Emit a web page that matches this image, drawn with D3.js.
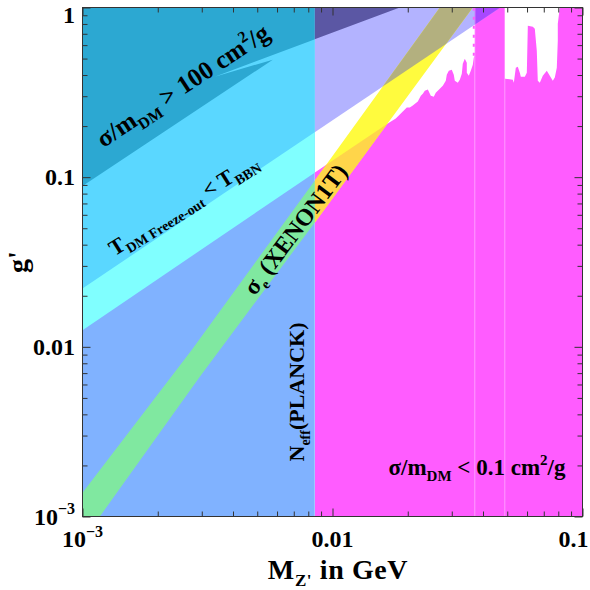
<!DOCTYPE html>
<html lang='en'>
  <head>
    <meta charset='utf-8'>
    <style>
      body { margin: 0; background: #fff; }
      svg { display: block; }
      text { font-family: 'Liberation Serif', 'Times New Roman', serif; font-weight: bold; white-space: pre; }
    </style>
  </head>
  <body>
    <div id='chart'></div>

    <script src='https://cdn.jsdelivr.net/npm/d3@7/dist/d3.min.js'></script>
    <script>
      // axes
      var xDomain = [0.001, 0.1];
      var yDomain = [0.001, 1];
      var xTickValues = [0.001, 0.01, 0.1];
      var yTickValues = [0.001, 0.01, 0.1, 1];

      // N_eff (PLANCK) bound on M_Z'
      var nEffMass = 0.0085;

      // T_DM freeze-out band edges (M, g')
      var freezeUpper = [[0.001, 0.0221], [0.0469, 1]];
      var freezeLower = [[0.001, 0.01253], [0.0798, 1]];

      // sigma/m > 100 cm^2/g boundary
      var strongEdge = [[0.001, 0.0887], [0.00577, 0.4925], [0.00338, 0.3912], [0.01859, 1]];

      // sigma_e XENON1T band
      var xenonUpper = [[0.00085, 0.001], [0.001, 0.001378], [0.002729, 0.009563], [0.0085, 0.09563], [0.02687, 1]];
      var xenonLower = [[0.001173, 0.001], [0.002946, 0.006662], [0.0085, 0.05414], [0.03641, 1]];

      // sigma/m < 0.1 cm^2/g upper edge
      var weakEdge = [
        [0.0085, 0.1065], [0.01664, 0.2069], [0.01791, 0.2214], [0.01911, 0.2435], [0.01983, 0.2570],
        [0.02038, 0.2570], [0.02095, 0.2641], [0.02194, 0.2788], [0.02256, 0.3024], [0.02298, 0.3107],
        [0.02340, 0.3236], [0.02406, 0.3281], [0.02473, 0.3024], [0.02542, 0.2983], [0.02589, 0.3149],
        [0.02687, 0.3325], [0.02762, 0.3463], [0.02839, 0.3705], [0.02865, 0.4018], [0.02919, 0.4242],
        [0.03000, 0.4300], [0.03056, 0.4018], [0.03085, 0.3705], [0.03171, 0.3607], [0.03230, 0.3756],
        [0.03290, 0.4074], [0.03320, 0.4665], [0.03382, 0.4991], [0.03445, 0.4728], [0.03445, 0.4129],
        [0.03509, 0.3963], [0.03574, 0.4242], [0.03641, 0.4602], [0.03674, 0.5059], [0.03708, 0.5198],
        [0.03708, 1], [0.04889, 1], [0.04889, 0.3807], [0.05263, 0.3756], [0.05312, 0.3607],
        [0.05411, 0.4418], [0.05511, 0.4479], [0.05614, 0.4129], [0.05666, 0.3911], [0.05879, 0.3911],
        [0.05988, 0.4129], [0.06044, 0.7806], [0.06327, 0.7701], [0.06445, 0.7494], [0.06564, 0.5563],
        [0.06625, 0.3705], [0.06748, 0.3607], [0.06937, 0.3963], [0.07198, 0.4242], [0.07400, 0.3963],
        [0.07607, 0.3705], [0.07748, 0.3861], [0.07892, 0.4418], [0.07965, 0.6369], [0.07965, 0.8018],
        [0.08113, 1]
      ];
      var seamMasses = [0.03708, 0.04889];

      var colors = {
        neff: '#80b2ff', freeze: '#80ffff', freezeUp: '#5ad7ff', strong: '#2ca8d2',
        xenonL: '#80e8a0', lavender: '#b3b3ff', strongR: '#5b57a4', weak: '#ff5cff',
        purple: '#a848ff', yellow: '#fffb3e', olive: '#b3b07f', orange: '#ffd54a'
      };

      var width = 590, height = 590;
      var margin = {top: 7.5, right: 7.5, bottom: 73.5, left: 82.5};

      var x = d3.scaleLog().domain(xDomain).range([margin.left, width - margin.right]);
      var y = d3.scaleLog().domain(yDomain).range([height - margin.bottom, margin.top]);

      var line = d3.line()
          .x(function (d) { return x(d[0]); })
          .y(function (d) { return y(d[1]); });
      function poly(pts) { return line(pts) + 'Z'; }

      var aboveUpper = freezeUpper.concat([[xDomain[0], yDomain[1]]]);
      var aboveLower = freezeLower.concat([[xDomain[0], yDomain[1]]]);
      var strongRegion = strongEdge.concat([[xDomain[0], yDomain[1]]]);
      var xenonBand = xenonUpper.concat(xenonLower.slice().reverse());
      var weakRegion = weakEdge.concat([[xDomain[1], yDomain[1]], [xDomain[1], yDomain[0]], [nEffMass, yDomain[0]]]);

      var svg = d3.select('#chart').append('svg')
          .attr('width', width)
          .attr('height', height);

      var defs = svg.append('defs');
      defs.append('clipPath').attr('id', 'plot').append('rect')
          .attr('x', x(xDomain[0])).attr('y', y(yDomain[1]))
          .attr('width', x(xDomain[1]) - x(xDomain[0])).attr('height', y(yDomain[0]) - y(yDomain[1]));
      defs.append('clipPath').attr('id', 'left').append('rect')
          .attr('x', x(xDomain[0])).attr('y', y(yDomain[1]))
          .attr('width', x(nEffMass) - x(xDomain[0])).attr('height', y(yDomain[0]) - y(yDomain[1]));
      defs.append('clipPath').attr('id', 'right').append('rect')
          .attr('x', x(nEffMass)).attr('y', y(yDomain[1]))
          .attr('width', x(xDomain[1]) - x(nEffMass)).attr('height', y(yDomain[0]) - y(yDomain[1]));
      defs.append('clipPath').attr('id', 'weak').append('path').attr('d', poly(weakRegion));
      defs.append('clipPath').attr('id', 'upper').append('path').attr('d', poly(aboveUpper));

      var plot = svg.append('g').attr('clip-path', 'url(#plot)');

      // below the N_eff bound
      var left = plot.append('g').attr('clip-path', 'url(#left)');
      left.append('rect')
          .attr('x', x(xDomain[0])).attr('y', y(yDomain[1]))
          .attr('width', x(nEffMass) - x(xDomain[0])).attr('height', y(yDomain[0]) - y(yDomain[1]))
          .attr('fill', colors.neff);
      left.append('path').attr('d', poly(aboveLower)).attr('fill', colors.freeze);
      left.append('path').attr('d', poly(aboveUpper)).attr('fill', colors.freezeUp);
      left.append('path').attr('d', poly(strongRegion)).attr('fill', colors.strong);
      left.append('path').attr('d', poly(xenonBand)).attr('fill', colors.xenonL);

      // above the N_eff bound
      var right = plot.append('g').attr('clip-path', 'url(#right)');
      right.append('path').attr('d', poly(weakRegion)).attr('fill', colors.weak);
      right.append('path').attr('d', poly(aboveUpper)).attr('fill', colors.lavender);
      right.append('path').attr('d', poly(aboveUpper)).attr('fill', colors.purple).attr('clip-path', 'url(#weak)');
      right.append('path').attr('d', poly(strongRegion)).attr('fill', colors.strongR);
      right.append('path').attr('d', poly(xenonBand)).attr('fill', colors.yellow);
      right.append('path').attr('d', poly(xenonBand)).attr('fill', colors.olive).attr('clip-path', 'url(#upper)');
      right.append('path').attr('d', poly(xenonBand)).attr('fill', colors.orange).attr('clip-path', 'url(#weak)');

      right.selectAll('line.seam')
          .data(seamMasses)
        .enter().append('line')
          .attr('class', 'seam')
          .attr('x1', function (d) { return x(d); }).attr('x2', function (d) { return x(d); })
          .attr('y1', y(yDomain[0])).attr('y2', y(yDomain[1]))
          .attr('stroke', '#ff9cff').attr('stroke-width', 1)
          .attr('clip-path', 'url(#weak)');
      right.append('line')
          .attr('x1', x(seamMasses[0]) - 1).attr('x2', x(seamMasses[0]) - 1)
          .attr('y1', y(weakEdge[34][1])).attr('y2', y(yDomain[1]))
          .attr('stroke', colors.weak).attr('stroke-width', 2)
          .attr('stroke-dasharray', '3,6');

      // frame ticks
      var xMinor = x.ticks().filter(function (d) { return xTickValues.indexOf(d) < 0; });
      var yMinor = y.ticks().filter(function (d) { return yTickValues.indexOf(d) < 0; });
      var axes = [
        [d3.axisBottom(x), 'translate(0,' + y(yDomain[0]) + ')', xTickValues, xMinor],
        [d3.axisTop(x), 'translate(0,' + y(yDomain[1]) + ')', xTickValues, xMinor],
        [d3.axisLeft(y), 'translate(' + x(xDomain[0]) + ',0)', yTickValues, yMinor],
        [d3.axisRight(y), 'translate(' + x(xDomain[1]) + ',0)', yTickValues, yMinor]
      ];
      axes.forEach(function (a) {
        [[a[2], 8], [a[3], 5]].forEach(function (t) {
          var g = svg.append('g').attr('transform', a[1])
              .call(a[0].tickValues(t[0]).tickSize(-t[1]).tickFormat(''));
          g.select('.domain').remove();
          g.selectAll('line').attr('stroke', '#333');
        });
      });

      svg.append('rect')
          .attr('x', x(xDomain[0])).attr('y', y(yDomain[1]))
          .attr('width', x(xDomain[1]) - x(xDomain[0])).attr('height', y(yDomain[0]) - y(yDomain[1]))
          .attr('fill', 'none').attr('stroke', '#333').attr('stroke-width', 1);

      // rich text: parts [text, 'sub'|'sup'|undefined, size]
      function rich(parent, parts, size) {
        var t = parent.append('text').attr('font-size', size);
        var shift = 0;
        parts.forEach(function (p) {
          var target = p[1] === 'sub' ? size * 0.25 : p[1] === 'sup' ? -size * 0.42 : 0;
          t.append('tspan')
              .attr('dy', target - shift)
              .attr('font-size', p[2] || size)
              .text(p[0]);
          shift = target;
        });
        return t;
      }

      function tickLabel(v) {
        if (v === 0.001) return [['10'], ['\u22123', 'sup', 16]];
        return [[String(v)]];
      }

      // x tick labels
      xTickValues.forEach(function (v, i) {
        var tx = x(v), anchor = 'middle';
        if (i === xTickValues.length - 1) { tx = x(v) + 6; anchor = 'end'; }
        rich(svg.append('g').attr('transform', 'translate(' + tx + ',547)'), tickLabel(v), 24)
            .attr('text-anchor', anchor);
      });

      // y tick labels
      yTickValues.forEach(function (v) {
        var ty = Math.max(y(v), 15) + 8;
        rich(svg.append('g').attr('transform', 'translate(75,' + ty + ')'), tickLabel(v), 24)
            .attr('text-anchor', 'end');
      });

      // axis titles
      rich(svg.append('g').attr('transform', 'translate(338,579)'),
          [['M'], ['Z\'', 'sub', 17], [' in GeV']], 28).attr('text-anchor', 'middle')
          .attr('letter-spacing', 0.6);
      rich(svg.append('g').attr('transform', 'translate(27,' + ((y(yDomain[0]) + y(yDomain[1])) / 2) + ') rotate(-90)'),
          [['g\'']], 28).attr('text-anchor', 'middle');

      // region labels
      rich(svg.append('g').attr('transform', 'translate(183,86) rotate(-33.5)'),
          [['\u03c3/m'], ['DM', 'sub', 16], [' > 100 cm'], ['2', 'sup', 16], ['/g']], 25.5)
          .attr('text-anchor', 'middle').attr('y', 8);
      rich(svg.append('g').attr('transform', 'translate(184,206) rotate(-32)'),
          [['T'], ['DM Freeze-out', 'sub', 14], [' < T'], ['BBN', 'sub', 14]], 22)
          .attr('text-anchor', 'middle').attr('y', 6);
      rich(svg.append('g').attr('transform', 'translate(296,230) rotate(-53)'),
          [['\u03c3'], ['e', 'sub', 14], [' (XENON1T)']], 24)
          .attr('text-anchor', 'middle').attr('y', 7);
      rich(svg.append('g').attr('transform', 'translate(304,392) rotate(-90)'),
          [['N'], ['eff', 'sub', 14], ['(PLANCK)']], 22)
          .attr('text-anchor', 'middle');
      rich(svg.append('g').attr('transform', 'translate(477,475)'),
          [['\u03c3/m'], ['DM', 'sub', 15], [' < 0.1 cm'], ['2', 'sup', 15], ['/g']], 23)
          .attr('text-anchor', 'middle');
    </script>
  </body>
</html>
